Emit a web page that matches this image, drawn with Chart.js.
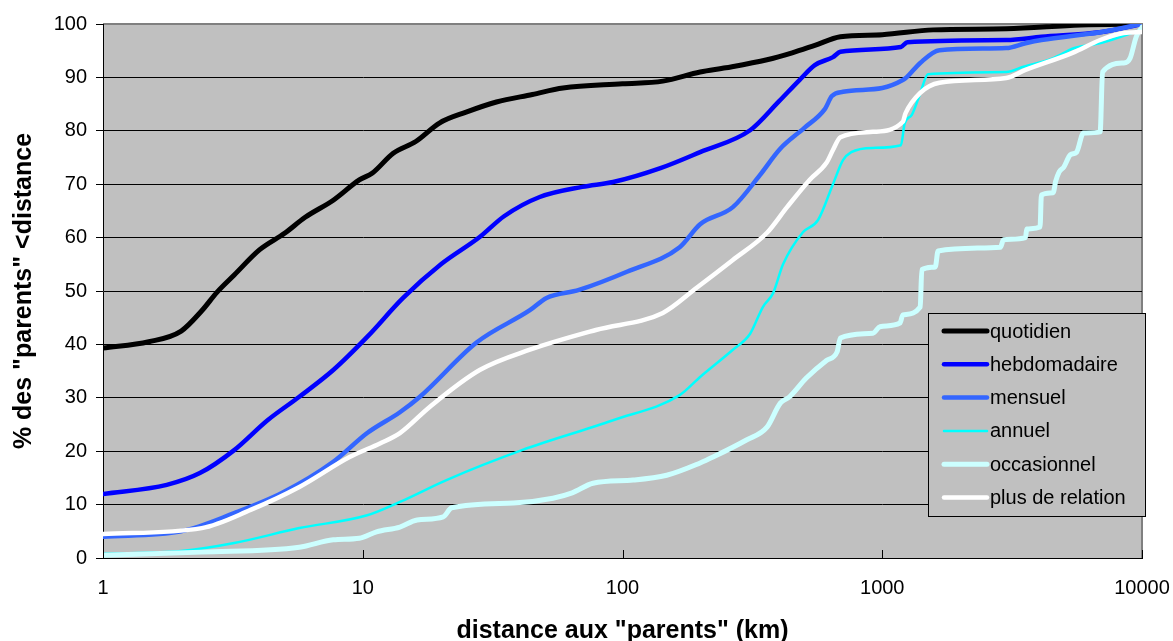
<!DOCTYPE html>
<html>
<head>
<meta charset="utf-8">
<script src="https://cdn.jsdelivr.net/npm/chart.js@4"></script>
<style>
  html, body { margin: 0; padding: 0; background: #fff; }
  canvas { display: block; }
</style>
</head>
<body>
<canvas id="chart" width="1173" height="641"></canvas>
<script>
// series names, in legend order
const seriesNames = ["quotidien", "hebdomadaire", "mensuel", "annuel", "occasionnel", "plus de relation"]
const xTicks = [1, 10, 100, 1000, 10000]

// distance (km) / %
const quotidienKm  = [1, 1.5, 2, 2.4, 2.75, 3.2, 4, 5, 6, 7.7, 9.7, 10.9, 13.1, 16, 19.8, 25, 32.7, 45, 59, 100, 143, 199, 250, 360, 450, 550, 690, 1000, 1570, 3000, 5800, 10000]
const quotidienPct = [39.3, 40.5, 42.5, 46.3, 49.8, 53, 57.7, 60.8, 63.8, 67, 70.8, 72.1, 75.8, 78, 81.5, 83.5, 85.4, 86.8, 88, 88.8, 89.3, 91, 91.8, 93.3, 94.6, 96, 97.6, 98, 98.9, 99.1, 99.8, 100]

const hebdoKm  = [1, 1.76, 2.36, 3.2, 4.3, 5.7, 7.7, 10.4, 14.3, 20, 28.2, 35, 48, 70, 92, 140, 199, 310, 400, 480, 550, 646, 690, 1180, 1250, 3000, 4100, 7000, 10000]
const hebdoPct = [12, 13.7, 15.9, 20.2, 25.8, 30.2, 35.2, 41.4, 48.7, 55, 60.1, 64, 67.6, 69.5, 70.4, 73, 76, 80.1, 85.5, 89.5, 92.3, 93.8, 94.8, 95.7, 96.6, 97, 97.6, 98.5, 100]

const mensuelKm  = [1, 2, 3.2, 4.9, 7.7, 10.4, 13.9, 16.6, 27.5, 44, 51, 68, 104, 166, 199, 266, 338, 404, 500, 600, 640, 706, 1000, 1200, 1240, 1400, 1660, 3000, 3560, 4100, 7000, 10000]
const mensuelPct = [4, 5, 8.4, 12.2, 18, 23.4, 27.3, 30.2, 40.4, 46.4, 48.7, 50.2, 53.6, 58.2, 62.5, 65.7, 71.7, 76.6, 80.5, 84, 86.5, 87.3, 88, 89.5, 90, 92.7, 95.1, 95.5, 96.4, 97, 98.5, 100]

const annuelKm  = [1, 2, 3.2, 5.7, 10.4, 13.9, 21, 41, 92, 166, 200, 266, 310, 347, 380, 415, 495, 566, 646, 706, 760, 921, 1180, 1220, 1300, 1400, 1500, 3000, 3500, 4500, 5500, 7000, 10000]
const annuelPct = [0.8, 1.3, 2.8, 5.6, 8, 10.5, 14.6, 20.2, 25.8, 30.5, 34, 39, 42, 47, 49.6, 55, 61, 63.3, 70, 74.5, 76, 76.8, 77.3, 81.4, 83, 87, 90.6, 91, 92, 93.5, 95.5, 96.5, 99]

const occasKm  = [1, 2.4, 5.7, 7.7, 9.7, 11.3, 13.9, 16.2, 20.4, 22, 38, 54, 64, 77, 110, 148, 199, 223, 300, 360, 405, 440, 510, 610, 670, 690, 920, 980, 1170, 1200, 1400, 1420, 1600, 1640, 2850, 2930, 3560, 3600, 4050, 4100, 4550, 4650, 4800, 5000, 5300, 5600, 5950, 6900, 7050, 8500, 9000, 9500, 10000]
const occasPct = [0.5, 1.1, 2, 3.4, 3.7, 4.9, 5.8, 7.1, 7.7, 9.4, 10.3, 11.2, 12.2, 14, 14.6, 15.5, 17.8, 18.9, 22.1, 24.5, 29, 30.2, 33.7, 37, 38.6, 41.2, 42.1, 43.3, 44, 45.5, 47, 54, 54.5, 57.5, 58.2, 59.6, 60, 61.6, 62, 68, 68.4, 70.5, 72.3, 73.2, 75.5, 76, 79.6, 79.8, 91, 92.7, 93.6, 97.6, 99.4]

const plusKm  = [1, 2.4, 3.7, 5.7, 8.9, 11.7, 13.9, 18.1, 28.2, 44, 79, 143, 193, 266, 360, 430, 525, 610, 646, 690, 920, 1200, 1230, 1400, 1660, 3000, 3560, 5400, 6900, 8500, 10000]
const plusPct = [4.5, 5.6, 9, 13.3, 18.9, 21.5, 23.4, 28.3, 35.2, 39, 42.7, 45.9, 50.6, 55.8, 60.9, 65.7, 70.8, 74, 76.4, 78.8, 79.8, 81.7, 83.3, 87.1, 89, 89.9, 91.4, 94.6, 97, 98.3, 98.5]

const seriesKm  = [quotidienKm, hebdoKm, mensuelKm, annuelKm, occasKm, plusKm]
const seriesPct = [quotidienPct, hebdoPct, mensuelPct, annuelPct, occasPct, plusPct]
const colors = ["#000000", "#0000FF", "#3366FF", "#00FFFF", "#CCFFFF", "#FFFFFF"]
const widths = [5, 4.5, 4.5, 2.5, 5, 4.5]

const FONT = "'Liberation Sans', Arial, sans-serif"
Chart.defaults.font.family = FONT
Chart.defaults.color = "#000"

const datasets = seriesNames.map((name, i) => ({
  label: name,
  data: seriesKm[i].map((x, j) => ({ x, y: seriesPct[i][j] })),
  borderColor: colors[i],
  backgroundColor: colors[i],
  borderWidth: widths[i],
  borderJoinStyle: "round",
  borderCapStyle: "round",
  pointRadius: 0,
  cubicInterpolationMode: "monotone",
  fill: false,
  order: seriesNames.length - i   // later series drawn on top, like the original
}))

// grey plot area with a grey frame on top/right
const plotBg = {
  id: "plotBg",
  beforeDraw(chart) {
    const { ctx, chartArea: a } = chart
    ctx.save()
    ctx.fillStyle = "#C0C0C0"
    ctx.fillRect(a.left, a.top, a.right - a.left, a.bottom - a.top)
    ctx.strokeStyle = "#808080"
    ctx.lineWidth = 2
    ctx.beginPath()
    ctx.moveTo(a.left, a.top)
    ctx.lineTo(a.right, a.top)
    ctx.lineTo(a.right, a.bottom)
    ctx.stroke()
    ctx.restore()
  },
  afterDatasetsDraw(chart) {
    const { ctx, chartArea: a, scales } = chart
    ctx.save()
    // x tick marks pointing into the plot
    ctx.strokeStyle = "#000"
    ctx.lineWidth = 1
    xTicks.forEach(v => {
      const px = Math.round(scales.x.getPixelForValue(v)) + 0.5
      ctx.beginPath()
      ctx.moveTo(px, a.bottom)
      ctx.lineTo(px, a.bottom - 8)
      ctx.stroke()
    })
    // legend box inside the plot
    const lx = 928, ly = 313, lw = 217, lh = 203
    ctx.fillStyle = "#C0C0C0"
    ctx.fillRect(lx, ly, lw, lh)
    ctx.strokeStyle = "#000"
    ctx.strokeRect(lx + 0.5, ly + 0.5, lw, lh)
    ctx.font = "20px " + FONT
    ctx.textBaseline = "middle"
    ctx.fillStyle = "#000"
    seriesNames.forEach((name, i) => {
      const y = ly + 18 + i * 33.3
      ctx.strokeStyle = colors[i]
      ctx.lineWidth = widths[i]
      ctx.lineCap = "round"
      ctx.beginPath()
      ctx.moveTo(lx + 16, y)
      ctx.lineTo(lx + 59, y)
      ctx.stroke()
      ctx.fillText(name, lx + 62, y + 1)
    })
    ctx.restore()
  }
}

new Chart(document.getElementById("chart"), {
  type: "line",
  data: { datasets },
  plugins: [plotBg],
  options: {
    responsive: false,
    animation: false,
    devicePixelRatio: 1,
    layout: { padding: { top: 24, right: 31, left: 0, bottom: 0 } },
    plugins: { legend: { display: false }, tooltip: { enabled: false } },
    scales: {
      x: {
        type: "logarithmic",
        min: 1,
        max: 10000,
        afterFit: s => { s.height = 83; s.paddingRight = 0; s.paddingLeft = 0 },
        afterBuildTicks: s => { s.ticks = xTicks.map(v => ({ value: v })) },
        grid: { display: false, drawTicks: false },
        border: { display: true, color: "#000", width: 1 },
        ticks: {
          autoSkip: false,
          maxRotation: 0,
          padding: 18,
          font: { size: 20 },
          callback: v => String(v)
        },
        title: {
          display: true,
          text: 'distance aux "parents" (km)',
          font: { size: 25, weight: "bold" },
          padding: { top: 0, bottom: -5 }
        }
      },
      y: {
        min: 0,
        max: 100,
        afterFit: s => { s.width = 103 },
        grid: {
          color: c => (c.tick && c.tick.value === 100 ? "#808080" : "#000"),
          lineWidth: 1,
          tickLength: 7,
          tickColor: "#000"
        },
        border: { display: true, color: "#000", width: 1 },
        ticks: { stepSize: 10, padding: 9, font: { size: 20 } },
        title: {
          display: true,
          text: '% des "parents" <distance',
          font: { size: 25, weight: "bold" },
          padding: { top: 9, bottom: 0 }
        }
      }
    }
  }
})
</script>
</body>
</html>
